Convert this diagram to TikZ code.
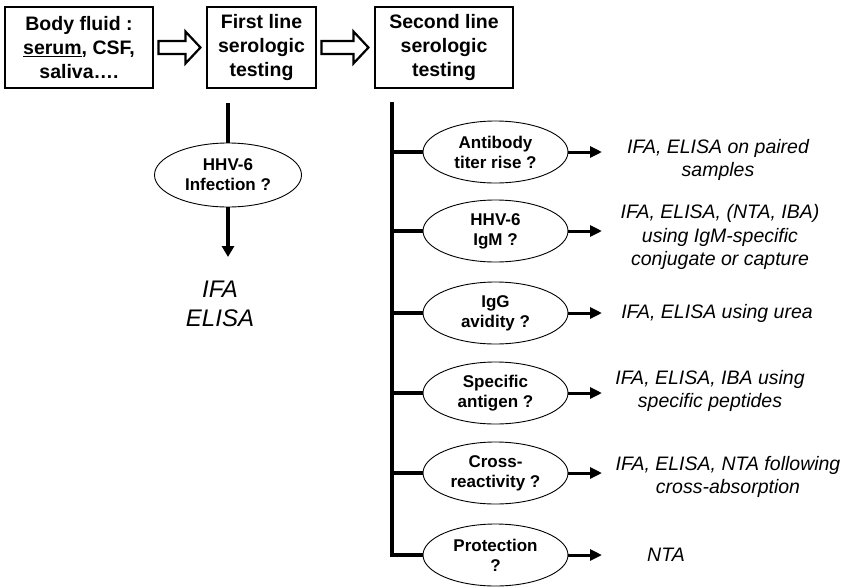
\documentclass[tikz,border=0pt]{standalone}
\usepackage{fontspec}
\setmainfont{Liberation Sans}
\usepackage{tikz}
\usetikzlibrary{calc,positioning,shapes.geometric,arrows.meta}

\newcommand{\hollowarrow}[2]{%
	\draw[hollow] let \p1=($(#1.east)+(5,0)$), \p2=($(#2.west)+(-6,0)$) in
	(\x1,\y1+6.5pt) -- (\x2-15pt,\y1+6.5pt) -- (\x2-15pt,\y1+16pt) -- (\x2,\y1)
	-- (\x2-15pt,\y1-16pt) -- (\x2-15pt,\y1-6.5pt) -- (\x1,\y1-6.5pt) -- cycle;}

\begin{document}
\begin{tikzpicture}[x=1pt,y=-1pt,
	box/.style={draw,line width=1.1pt,minimum height=81pt,inner sep=0pt,align=center,
		font=\fontsize{19.5}{24}\selectfont\bfseries},
	question/.style={draw,ellipse,line width=0.9pt,minimum width=145pt,minimum height=62pt,
		inner sep=0pt,align=center,font=\fontsize{17}{20}\selectfont\bfseries},
	answer/.style={align=center,inner sep=0pt,font=\fontsize{19.5}{23.5}\selectfont\itshape},
	hollow/.style={draw,line width=2.2pt,line join=miter},
	trunk/.style={line width=3.5pt},
	toanswer/.style={line width=3pt,-{Triangle[length=12pt,width=11pt]}}]
	\useasboundingbox (0,0) rectangle (846,587);
	% top row
	\node[box,minimum width=148pt] (fluid) at (79,47.5) {Body fluid :\\\underline{serum}, CSF,\\saliva….};
	\node[box,minimum width=109pt] (first) at (261.5,47.5) {First line\\serologic\\testing};
	\node[box,minimum width=138pt] (second) at (444,47.5) {Second line\\serologic\\testing};
	\hollowarrow{fluid}{first}
	\hollowarrow{first}{second}
	% first line
	\coordinate (ftop) at (228,103);
	\coordinate (fend) at (228,257);
	\node[question,minimum width=147pt,minimum height=64pt] (inf) at (228,175) {HHV-6\\Infection ?};
	\node[answer,font=\fontsize{24}{29}\selectfont\itshape] (ifa) at (220,304) {IFA\\ELISA};
	\draw[line width=4pt] (ftop) -- (inf.north);
	\draw[line width=4pt,-{Triangle[length=11pt,width=12pt]}] (inf.south) -- (fend);
	% second line
	\coordinate (stop) at (392,102);
	\coordinate (tipx) at (602,0);
	\node[question] (rise) at (495.5,152) {Antibody\\titer rise ?};
	\node[question] (igm) at (495.5,231) {HHV-6\\IgM ?};
	\node[question] (avid) at (495.5,313) {IgG\\avidity ?};
	\node[question] (antg) at (495.5,393) {Specific\\antigen ?};
	\node[question] (cross) at (495.5,473) {Cross-\\reactivity ?};
	\node[question] (prot) at (495.5,555) {Protection\\?};
	\draw[trunk] (stop) -- (stop |- prot.west) -- (prot.west);
	\foreach \q in {rise,igm,avid,antg,cross}
		\draw[trunk] (stop |- \q.west) -- (\q.west);
	\foreach \q in {rise,igm,avid,antg,cross,prot}
		\draw[toanswer] (\q.east) -- (\q.east -| tipx);
	\node[answer] (arise) at (718,160) {IFA, ELISA on paired\\samples};
	\node[answer] (aigm) at (720,237) {IFA, ELISA, (NTA, IBA)\\using IgM-specific\\conjugate or capture};
	\node[answer] (aavid) at (717,313) {IFA, ELISA using urea};
	\node[answer] (aantg) at (710,391) {IFA, ELISA, IBA using\\specific peptides};
	\node[answer] (across) at (728,477) {IFA, ELISA, NTA following\\cross-absorption};
	\node[answer] (aprot) at (666,555) {NTA};
\end{tikzpicture}
\end{document}
